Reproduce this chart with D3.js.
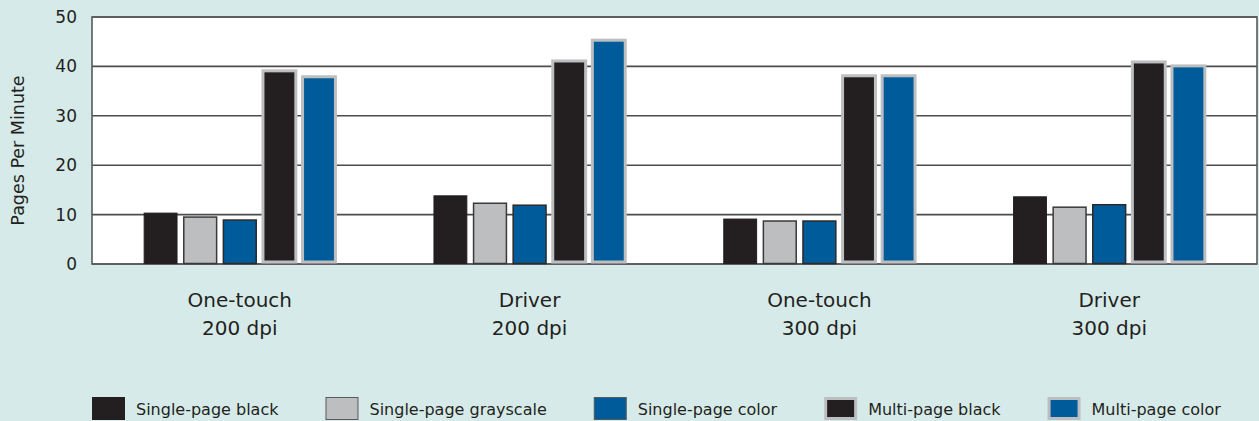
<!DOCTYPE html>
<meta charset="utf-8">
<title>Pages Per Minute</title>
<script src="https://d3js.org/d3.v7.min.js"></script>
<style>
  body { margin: 0; background: #d6ebe9; }
  text { font-family: "DejaVu Sans", sans-serif; fill: #231f20; }
</style>
<body>
<script>

// data
var categories = [["One-touch", "200 dpi"], ["Driver", "200 dpi"], ["One-touch", "300 dpi"], ["Driver", "300 dpi"]];
var seriesNames = ["Single-page black", "Single-page grayscale", "Single-page color", "Multi-page black", "Multi-page color"];
var singleBlack = [10.3, 13.8, 9.1, 13.6];
var singleGray = [9.5, 12.3, 8.7, 11.5];
var singleColor = [8.9, 11.9, 8.7, 12.0];
var multiBlack = [39.1, 41.1, 38.1, 40.9];
var multiColor = [37.9, 45.3, 38.1, 40.1];
var yTicks = [0, 10, 20, 30, 40, 50];

var series = [singleBlack, singleGray, singleColor, multiBlack, multiColor];
var fills = ["#231f20", "#bcbec0", "#005b9a", "#231f20", "#005b9a"];
var strokes = ["#231f20", "#3a3a3a", "#2a2a2a", "#bcbec0", "#bcbec0"];
var strokeW = [1, 1.5, 1.5, 3, 3];

var w = 1259, h = 421;
var svg = d3.select("body").append("svg").attr("width", w).attr("height", h);

var pLeft = 92, pRight = 1257, pTop = 17, pBottom = 264;

var x = d3.scaleBand().domain(d3.range(categories.length)).range([pLeft, pRight])
  .paddingInner(0.34).paddingOuter(0.18);
var xs = d3.scaleBand().domain(d3.range(series.length)).range([0, x.bandwidth()])
  .paddingInner(0.17).paddingOuter(0);
var y = d3.scaleLinear().domain([0, 50]).range([pBottom, pTop]);

// plot background
svg.append("rect").attr("x", pLeft).attr("y", pTop).attr("width", pRight - pLeft).attr("height", pBottom - pTop)
  .attr("fill", "#fff");

// grid lines
svg.append("g").selectAll("line").data(yTicks).enter().append("line")
  .attr("x1", pLeft).attr("x2", pRight)
  .attr("y1", function(d) { return y(d); }).attr("y2", function(d) { return y(d); })
  .attr("stroke", "#4d4d4d").attr("stroke-width", 1.6);

// frame
svg.append("rect").attr("x", pLeft).attr("y", pTop).attr("width", pRight - pLeft).attr("height", pBottom - pTop)
  .attr("fill", "none").attr("stroke", "#58595b").attr("stroke-width", 1.6);

// bars
var groups = svg.append("g").selectAll("g").data(categories).enter().append("g")
  .attr("transform", function(d, i) { return "translate(" + x(i) + ",0)"; });

groups.selectAll("rect")
  .data(function(d, i) { return series.map(function(s, k) { return { k: k, v: s[i] }; }); })
  .enter().append("rect")
  .attr("x", function(d) { return xs(d.k); })
  .attr("width", xs.bandwidth())
  .attr("y", function(d) { return y(d.v); })
  .attr("height", function(d) { return y(0) - y(d.v) - (d.k >= 3 ? 2 : 0.5); })
  .attr("fill", function(d) { return fills[d.k]; })
  .attr("stroke", function(d) { return strokes[d.k]; })
  .attr("stroke-width", function(d) { return strokeW[d.k]; });

// y axis
var yAxis = d3.axisLeft(y).tickValues(yTicks).tickSize(0).tickPadding(15);
var ya = svg.append("g").attr("transform", "translate(" + pLeft + ",0)").call(yAxis);
ya.select(".domain").remove();
ya.selectAll("text").style("font-family", "DejaVu Sans, sans-serif").style("font-size", "17px").attr("fill", "#231f20");

svg.append("text").attr("transform", "translate(24," + ((pTop + pBottom) / 2 + 10) + ") rotate(-90)")
  .attr("text-anchor", "middle").style("font-size", "17.5px").text("Pages Per Minute");

// category labels
var cl = svg.append("g").selectAll("text").data(categories).enter().append("text")
  .attr("text-anchor", "middle").style("font-size", "20px")
  .attr("x", function(d, i) { return x(i) + x.bandwidth() / 2; })
  .attr("y", 307);
cl.append("tspan").attr("x", function(d, i) { return x(i) + x.bandwidth() / 2; }).text(function(d) { return d[0]; });
cl.append("tspan").attr("x", function(d, i) { return x(i) + x.bandwidth() / 2; }).attr("dy", 28).text(function(d) { return d[1]; });

// legend
var lg = svg.append("g");
var lx = 92;
seriesNames.forEach(function(name, k) {
  var sw = k >= 3 ? 3 : 1;
  lg.append("rect").attr("x", lx + sw / 2).attr("y", 397 + sw / 2).attr("width", 33 - sw).attr("height", 23 - sw)
    .attr("fill", fills[k]).attr("stroke", k == 0 ? fills[k] : (k >= 3 ? "#bcbec0" : "#58595b")).attr("stroke-width", sw);
  var t = lg.append("text").attr("x", lx + 44).attr("y", 415).style("font-size", "16px").text(name);
  lx = lx + 44 + t.node().getComputedTextLength() + 47;
});

</script>
</body>
